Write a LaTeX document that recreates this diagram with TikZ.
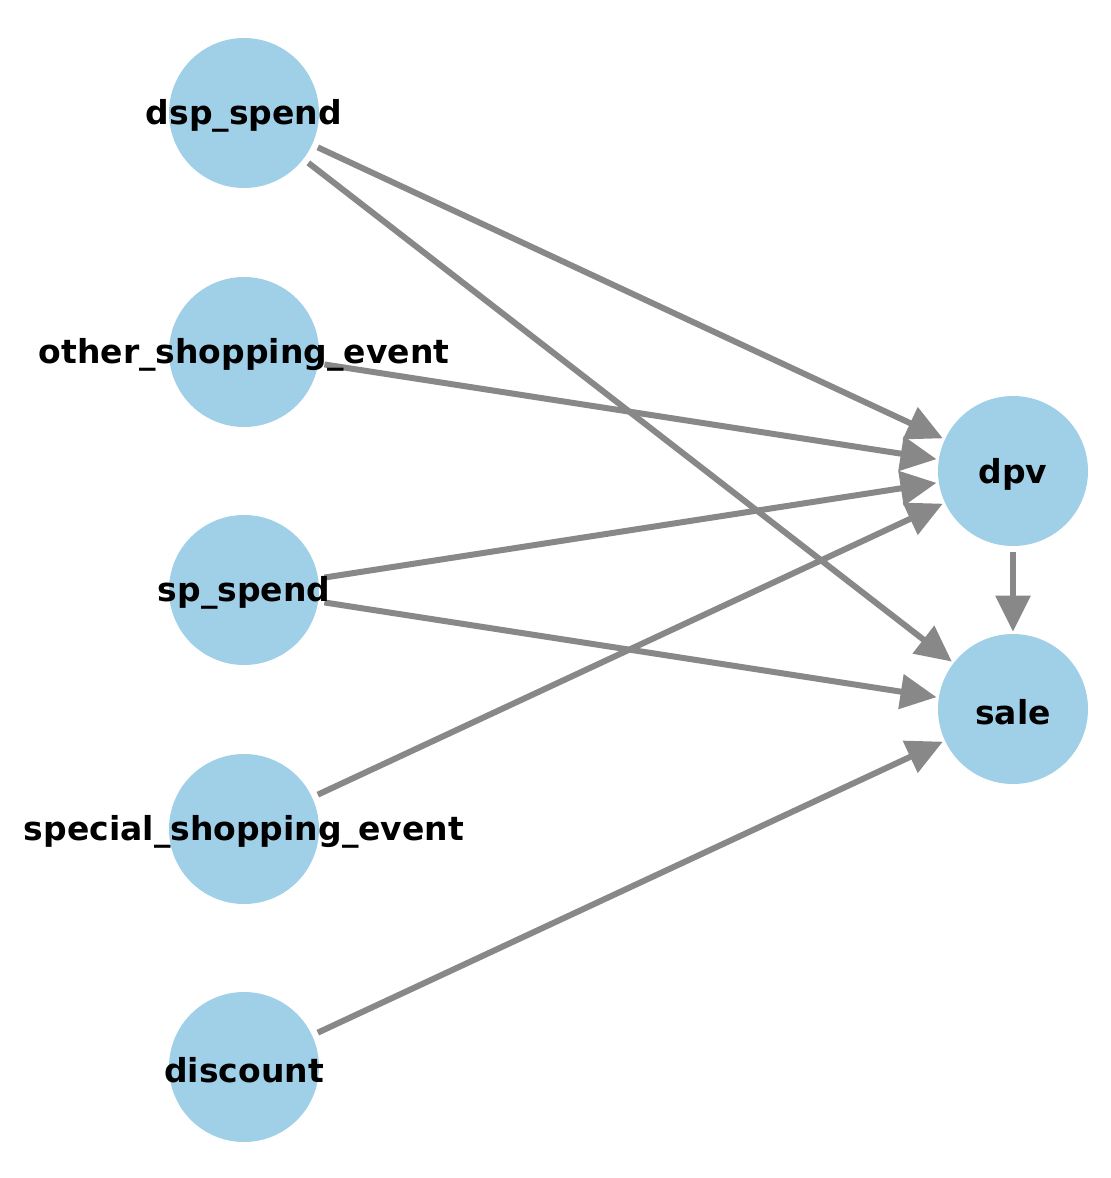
\documentclass[tikz,border=0pt]{standalone}
\usepackage{fontspec}
\setmainfont{DejaVu Sans}
\usetikzlibrary{arrows.meta,backgrounds}
\definecolor{nodeblue}{HTML}{A0CFE8}
\definecolor{edgegray}{HTML}{888888}
\tikzset{
  var/.style={circle,fill=nodeblue,minimum size=75pt,inner sep=0pt,
    label={[font=\fontsize{16.5}{18}\selectfont\bfseries,yshift=-1.5pt]center:#1}},
  dep/.style={draw=edgegray,line width=3pt,-{Triangle[length=18pt,width=17pt]},edgegray,shorten <=3pt,shorten >=1pt}
}
\begin{document}
\begin{tikzpicture}[x=0.5pt,y=-0.5pt,line join=round]
				\useasboundingbox (0,0) rectangle (1110,1178);
				\node[var={dsp\_spend}] (dsp) at (244,113) {};
				\node[var={other\_shopping\_event}] (other) at (244,352) {};
				\node[var={sp\_spend}] (sp) at (244,590) {};
				\node[var={special\_shopping\_event}] (special) at (244,829) {};
				\node[var={discount}] (disc) at (244,1067) {};
				\node[var={dpv}] (dpv) at (1013,471) {};
				\node[var={sale}] (sale) at (1013,709) {};
				\begin{scope}[on background layer]
				\draw[dep] (dsp) -- (dpv);
				\draw[dep] (dsp) -- (sale);
				\draw[dep] (other) -- (dpv);
				\draw[dep] (sp) -- (dpv);
				\draw[dep] (sp) -- (sale);
				\draw[dep] (special) -- (dpv);
				\draw[dep] (disc) -- (sale);
				\draw[dep] (dpv) -- (sale);
				\end{scope}
			\end{tikzpicture}
\end{document}
